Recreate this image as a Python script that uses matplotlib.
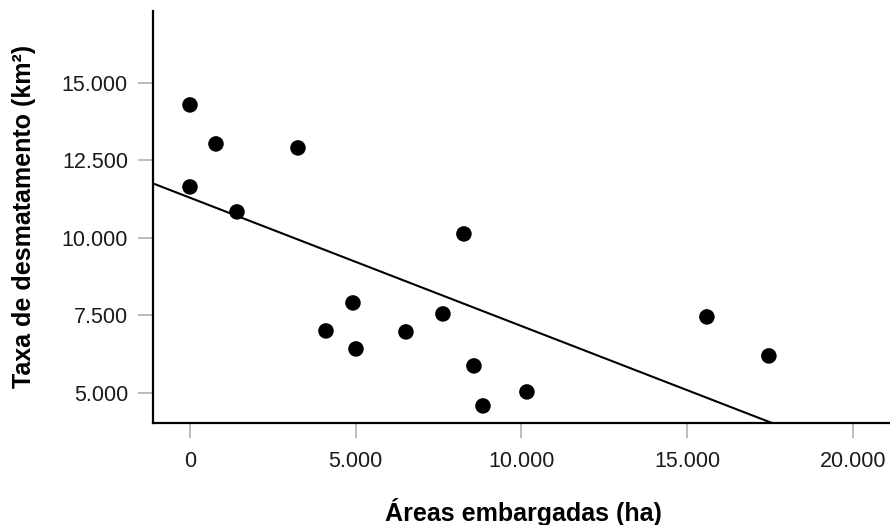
import numpy as np
import matplotlib.pyplot as plt
from matplotlib.ticker import FuncFormatter

plt.rcParams['font.family'] = ['Liberation Sans', 'DejaVu Sans']

# Embargoed areas (ha) and deforestation rate (km²)
areas_embargadas = [0, 0, 784, 1418, 3258, 4103, 4917, 5008, 6516,
                    7632, 8265, 8567, 8839, 10166, 15596, 17466]
taxa_desmatamento = [14290, 11645, 13032, 10839, 12903, 7000, 7903, 6419, 6968,
                     7548, 10129, 5871, 4581, 5032, 7452, 6194]

# Linear fit line
intercept = 11296
slope = -0.4138

x_ticks = [0, 5000, 10000, 15000, 20000]
y_ticks = [5000, 7500, 10000, 12500, 15000]

fig = plt.figure(figsize=(8.9, 5.25), dpi=100)
ax = fig.add_axes([0.1719, 0.1943, 0.8281, 0.7848])

xmin, xmax = -1116, 21120
ymin, ymax = 4030, 17320

line_x = np.array([xmin, xmax])
ax.plot(line_x, intercept + slope * line_x, color='black', lw=1.5, zorder=2)

ax.scatter(areas_embargadas, taxa_desmatamento, s=125, color='black',
           edgecolors='none', zorder=3)

ax.set_xlim(xmin, xmax)
ax.set_ylim(ymin, ymax)

fmt = FuncFormatter(lambda v, p: f'{v:,.0f}'.replace(',', '.'))
ax.set_xticks(x_ticks)
ax.set_yticks(y_ticks)
ax.xaxis.set_major_formatter(fmt)
ax.yaxis.set_major_formatter(fmt)

for side in ['top', 'right']:
    ax.spines[side].set_visible(False)
for side in ['left', 'bottom']:
    ax.spines[side].set_linewidth(1.6)
    ax.spines[side].set_color('black')

ax.tick_params(axis='both', direction='out', length=11, width=1.2,
               color='#b0b0b0', labelsize=15.5, labelcolor='#1a1a1a')
ax.tick_params(axis='x', pad=9)
ax.tick_params(axis='y', pad=7)

ax.set_xlabel('Áreas embargadas (ha)', fontsize=18, fontweight='bold')
ax.set_ylabel('Taxa de desmatamento (km²)', fontsize=18, fontweight='bold')
ax.xaxis.set_label_coords(0.502, -0.216)
ax.xaxis.label.set_va('center')
ax.yaxis.set_label_coords(-0.175, 0.502)
ax.yaxis.label.set_va('center')

fig.savefig('out.png', dpi=100)
